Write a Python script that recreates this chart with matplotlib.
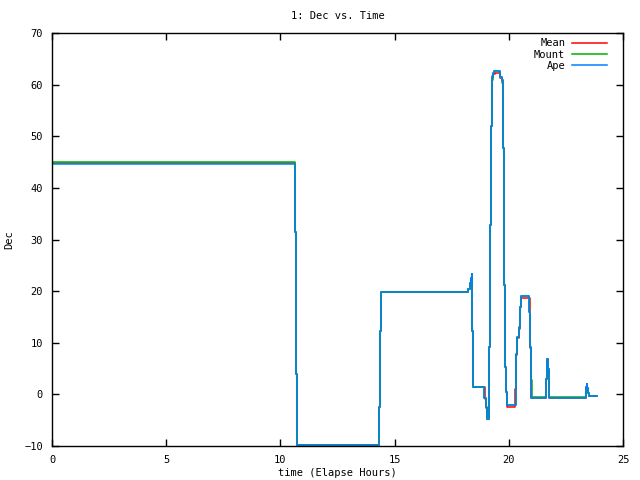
import matplotlib
matplotlib.use("Agg")
import matplotlib.pyplot as plt

# step data (value holds from t until the next t)
t_ape = [0, 10.64, 10.68, 10.74, 14.33, 14.37, 14.42, 18.23, 18.29, 18.34, 18.38,
         18.40, 18.43, 18.93, 18.99, 19.03, 19.06, 19.15, 19.19, 19.23, 19.26,
         19.31, 19.37, 19.63, 19.69, 19.75, 19.80, 19.85, 19.89, 19.93, 20.30, 20.33,
         20.37, 20.46, 20.50, 20.55, 20.90, 20.93, 20.96, 20.99, 21.64, 21.69, 21.72,
         21.75, 21.77, 23.37, 23.39, 23.41, 23.44, 23.48, 23.51, 23.87]
dec_ape = [44.7, 31.4, 4.0, -9.8, -2.4, 12.3, 19.8, 20.35, 21.5, 22.5, 23.4,
           12.3, 1.4, -0.75, -2.4, -4.0, -4.8, 9.2, 32.8, 51.9, 61.7,
           62.3, 62.6, 61.4, 60.9, 47.7, 21.2, 5.4, 0.4, -2.1, 1.2, 7.8,
           11.1, 13.0, 16.9, 19.0, 15.9, 9.2, 2.8, -0.7, 2.9, 6.8, 4.9,
           1.2, -0.7, 0.2, 1.4, 2.0, 1.2, 0.2, -0.3, -0.3]

t_mean = [0, 10.64, 10.68, 10.74, 14.33, 14.37, 14.42, 18.23, 18.29, 18.34, 18.38,
          18.40, 18.43, 18.95, 19.00, 19.04, 19.06, 19.15, 19.19, 19.23, 19.27,
          19.32, 19.38, 19.62, 19.69, 19.75, 19.81, 19.85, 19.89, 19.93, 20.29, 20.31,
          20.35, 20.44, 20.49, 20.55, 20.91, 20.94, 20.97, 20.99, 21.64, 21.69, 21.72,
          21.75, 21.77, 23.37, 23.39, 23.41, 23.44, 23.48, 23.51, 23.87]
dec_mean = [44.9, 31.4, 4.0, -9.8, -2.4, 12.3, 19.8, 20.35, 21.5, 22.5, 23.4,
            12.3, 1.4, -0.8, -2.6, -4.1, -4.8, 9.2, 32.8, 51.9, 61.5,
            62.1, 62.3, 61.2, 60.9, 47.7, 21.2, 5.4, 0.4, -2.4, 1.0, 7.6,
            10.9, 12.7, 16.9, 18.7, 15.6, 9.0, 2.8, -0.7, 2.9, 6.8, 4.9,
            1.2, -0.7, 0.2, 1.4, 2.0, 1.2, 0.2, -0.3, -0.3]

t_mount = [0, 10.64, 10.68, 10.74, 14.33, 14.37, 14.42, 18.23, 18.29, 18.34, 18.38,
           18.40, 18.43, 18.93, 18.99, 19.03, 19.06, 19.15, 19.19, 19.23, 19.25,
           19.30, 19.37, 19.63, 19.70, 19.76, 19.80, 19.85, 19.89, 19.93, 20.30, 20.33,
           20.37, 20.46, 20.50, 20.55, 20.90, 20.93, 20.96, 21.00, 21.64, 21.69, 21.72,
           21.76, 21.78, 23.36, 23.39, 23.41, 23.44, 23.48, 23.51, 23.87]
dec_mount = [45.0, 31.4, 4.0, -9.8, -2.4, 12.3, 19.8, 20.35, 21.5, 22.5, 23.4,
             12.3, 1.4, -0.75, -2.4, -4.0, -4.8, 9.2, 32.8, 51.9, 60.9,
             62.3, 62.6, 61.4, 60.4, 47.7, 21.2, 5.4, 0.4, -2.1, 1.2, 7.8,
             11.1, 13.0, 16.9, 19.0, 15.9, 9.2, 2.8, -0.5, 2.9, 6.8, 4.9,
             1.2, -0.5, 0.2, 1.4, 2.0, 1.2, 0.2, -0.3, -0.3]

plt.rcParams['font.family'] = ['DejaVu Sans Mono']
fs = 7.5

fig = plt.figure(figsize=(6.4, 4.8), dpi=100)
ax = fig.add_axes([0.08125, 0.0708, 0.8922, 0.8604])

ax.plot(t_mean, dec_mean, drawstyle='steps-post', color='#ff0000', lw=1.1, label='Mean')
ax.plot(t_mount, dec_mount, drawstyle='steps-post', color='#00b000', lw=1.1, label='Mount')
ax.plot(t_ape, dec_ape, drawstyle='steps-post', color='#0080ff', lw=1.1, label='Ape')

ax.set_xlim(0, 25)
ax.set_ylim(-10, 70)
ax.set_xticks([0, 5, 10, 15, 20, 25])
ax.set_yticks(range(-10, 71, 10))
ax.tick_params(direction='in', length=5, width=1, top=True, right=True,
               labelsize=fs, pad=6.5)
for s in ax.spines.values():
    s.set_linewidth(1)

ax.set_title('1: Dec vs. Time', fontsize=fs, pad=10)
ax.set_xlabel('time (Elapse Hours)', fontsize=fs, labelpad=2)
ax.set_ylabel('Dec', fontsize=fs, labelpad=7)

ax.legend(loc='upper right', bbox_to_anchor=(0.979, 0.997), frameon=False,
          markerfirst=False, fontsize=fs, handlelength=3.3, handletextpad=0.7,
          labelspacing=0.12, borderaxespad=0)

fig.savefig('out.png', dpi=100)
